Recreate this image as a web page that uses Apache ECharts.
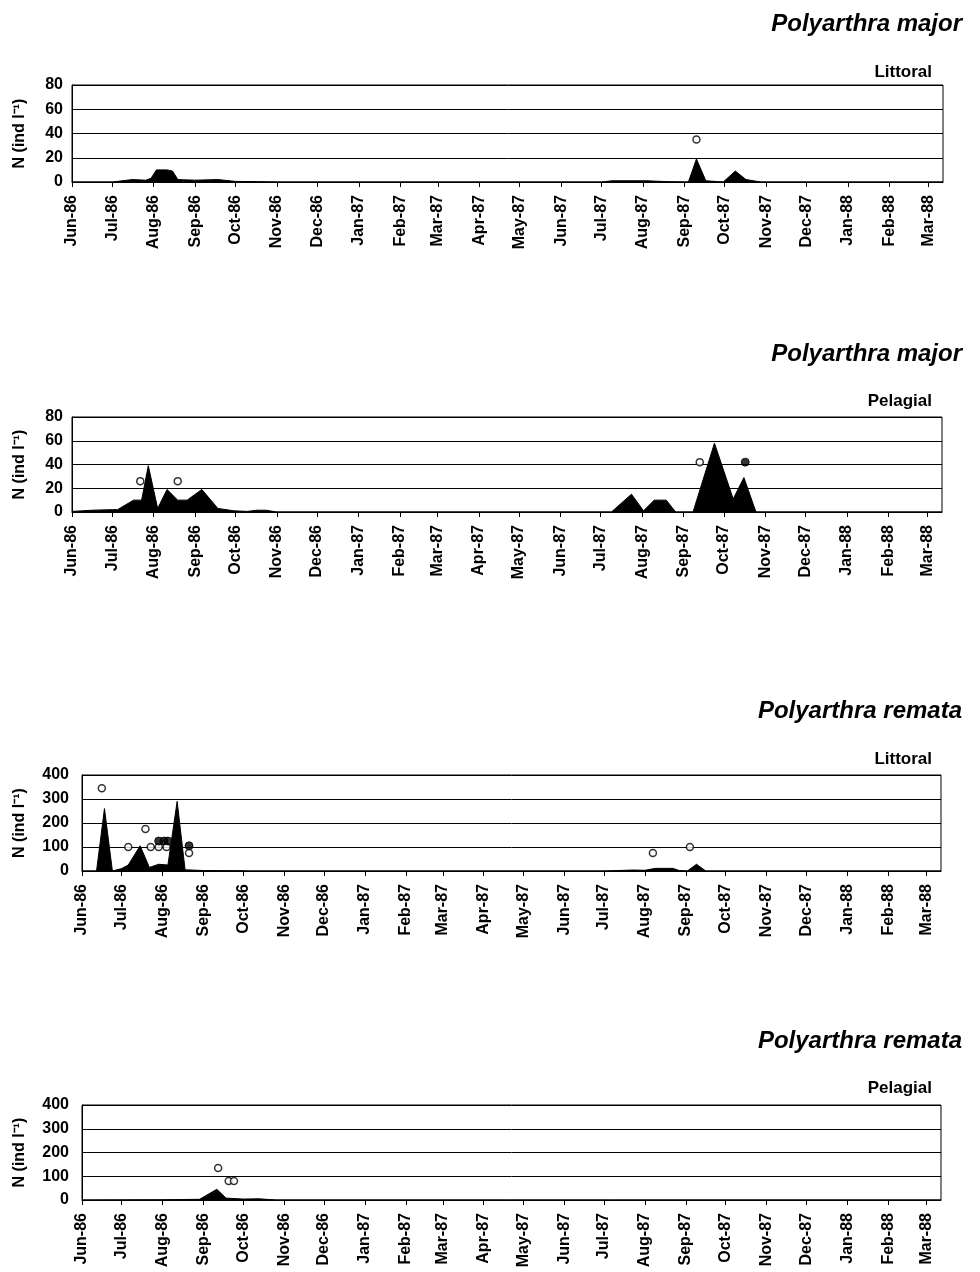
<!DOCTYPE html>
<html><head><meta charset="utf-8">
<script src="https://cdn.jsdelivr.net/npm/echarts@6/dist/echarts.min.js"></script>
<style>html,body{margin:0;padding:0;background:#fff}#c{width:980px;height:1272px}</style>
</head><body><div id="c"></div><script>
// ---- axis extent ----
const xStart = '1986-06-01';
const xEnd = '1988-03-12';

// ---- Polyarthra major, Littoral ----
const pmLitDates = ['1986-06-01','1986-07-01','1986-07-16','1986-07-26','1986-07-30','1986-08-03','1986-08-11','1986-08-15','1986-08-19','1986-09-01','1986-09-18','1986-10-01','1986-10-17','1986-11-01','1987-07-01','1987-07-09','1987-08-04','1987-08-19','1987-09-04','1987-09-10','1987-09-17','1987-09-30','1987-10-09','1987-10-17','1987-10-28','1988-03-12'];
const pmLitVals  = [0,0,2,1.5,3,10,10,9,2,1.5,2,0.5,0.3,0,0,1,1,0.3,0,19,1,0,9,2,0,0];
const pmLitOpenDates = ['1987-09-10'];
const pmLitOpenVals  = [35];
const pmLitFillDates = [];
const pmLitFillVals  = [];

// ---- Polyarthra major, Pelagial ----
const pmPelDates = ['1986-06-01','1986-06-16','1986-07-01','1986-07-05','1986-07-17','1986-07-23','1986-07-28','1986-08-04','1986-08-11','1986-08-19','1986-08-26','1986-09-06','1986-09-18','1986-09-30','1986-10-10','1986-10-17','1986-10-24','1986-11-01','1987-07-09','1987-07-24','1987-08-02','1987-08-10','1987-08-19','1987-08-26','1987-09-08','1987-09-24','1987-10-08','1987-10-16','1987-10-25','1988-03-12'];
const pmPelVals  = [0.5,1.5,2,2,10,10,39,3,19,10,10,19,3,1,0.5,1.5,1.5,0,0,15,1,10,10,0,0,58,11,29,0,0];
const pmPelOpenDates = ['1986-07-22','1986-08-19','1987-09-13'];
const pmPelOpenVals  = [26,26,42];
const pmPelFillDates = ['1987-10-17'];
const pmPelFillVals  = [42];

// ---- Polyarthra remata, Littoral ----
const prLitDates = ['1986-06-01','1986-06-12','1986-06-18','1986-06-24','1986-07-01','1986-07-06','1986-07-15','1986-07-22','1986-07-29','1986-08-05','1986-08-12','1986-08-18','1986-09-01','1986-09-30','1986-10-05','1987-07-01','1987-07-23','1987-08-01','1987-08-09','1987-08-22','1987-08-27','1987-09-02','1987-09-09','1987-09-16','1988-03-12'];
const prLitVals  = [0,0,260,0,10,25,105,15,28,25,290,5,2,1,0,0,4,3,11,11,2,0,28,0,0];
const prLitOpenDates = ['1986-06-16','1986-07-06','1986-07-19','1986-07-23','1986-07-29','1986-08-04','1986-08-21','1987-08-07','1987-09-04'];
const prLitOpenVals  = [345,100,175,100,100,100,75,75,100];
const prLitFillDates = ['1986-07-29','1986-08-02','1986-08-05','1986-08-21'];
const prLitFillVals  = [125,125,125,105];

// ---- Polyarthra remata, Pelagial ----
const prPelDates = ['1986-06-01','1986-08-01','1986-08-29','1986-09-11','1986-09-18','1986-10-01','1986-10-13','1986-10-26','1988-03-12'];
const prPelVals  = [0,1,3,45,8,4,5,0,0];
const prPelOpenDates = ['1986-09-12','1986-09-20','1986-09-24'];
const prPelOpenVals  = [135,80,80];
const prPelFillDates = [];
const prPelFillVals  = [];

// ---- panel texts / scales ----
const speciesTitles = ['Polyarthra major','Polyarthra major','Polyarthra remata','Polyarthra remata'];
const habitatTitles = ['Littoral','Pelagial','Littoral','Pelagial'];
const yMaxes = [80, 80, 400, 400];
const yIntervals = [20, 20, 100, 100];
const yName = 'N (ind l\u207B\u00B9)';

const panels = [
  {d: pmLitDates, v: pmLitVals, od: pmLitOpenDates, ov: pmLitOpenVals, fd: pmLitFillDates, fv: pmLitFillVals},
  {d: pmPelDates, v: pmPelVals, od: pmPelOpenDates, ov: pmPelOpenVals, fd: pmPelFillDates, fv: pmPelFillVals},
  {d: prLitDates, v: prLitVals, od: prLitOpenDates, ov: prLitOpenVals, fd: prLitFillDates, fv: prLitFillVals},
  {d: prPelDates, v: prPelVals, od: prPelOpenDates, ov: prPelOpenVals, fd: prPelFillDates, fv: prPelFillVals}
];

// layout
const gridPos = [
  {left: 72, right: 37, top: 85, height: 97},
  {left: 72, right: 38, top: 417, height: 95},
  {left: 82, right: 39, top: 775, height: 96},
  {left: 82, right: 39, top: 1105, height: 95}
];
const titleTops = [7, 337, 694, 1024];
const subTops = [59, 388, 746, 1075];
const nameGaps = [44, 44, 54, 54];
const yLabelMargins = [9, 9, 13, 13];

const FONT = '"Liberation Sans", Arial, sans-serif';
const DAY = 24 * 3600 * 1000;
const zip = (a, b) => a.map((x, i) => [x, b[i]]);

const option = {
  backgroundColor: '#fff',
  animation: false,
  title: [],
  grid: [],
  xAxis: [],
  yAxis: [],
  series: []
};

panels.forEach((p, i) => {
  option.title.push({
    text: speciesTitles[i], right: 13, top: titleTops[i],
    textStyle: {fontFamily: FONT, fontSize: 24, fontWeight: 'bold', fontStyle: 'italic', color: '#000'}
  });
  option.title.push({
    text: habitatTitles[i], right: 43, top: subTops[i],
    textStyle: {fontFamily: FONT, fontSize: 17, fontWeight: 'bold', color: '#000'}
  });
  option.grid.push(Object.assign({show: true, borderColor: '#000', borderWidth: 1, backgroundColor: '#fff',
    containLabel: false, outerBoundsMode: 'none'}, gridPos[i]));
  option.xAxis.push({
    type: 'time', gridIndex: i, min: xStart, max: xEnd,
    minInterval: 28 * DAY, maxInterval: 31 * DAY,
    axisLine: {show: true, lineStyle: {color: '#000', width: 1}},
    axisTick: {show: true, inside: false, length: 5, lineStyle: {color: '#000'}},
    splitLine: {show: false},
    axisLabel: {
      rotate: 90, margin: 13, formatter: '{MMM}-{yy}',
      fontFamily: FONT, fontSize: 16, fontWeight: 'bold', color: '#000',
      hideOverlap: false, showMinLabel: true
    }
  });
  option.yAxis.push({
    type: 'value', gridIndex: i, min: 0, max: yMaxes[i], interval: yIntervals[i],
    name: yName, nameLocation: 'middle', nameGap: nameGaps[i], nameRotate: 90,
    nameTextStyle: {fontFamily: FONT, fontSize: 16, fontWeight: 'bold', color: '#000'},
    axisLine: {show: true, lineStyle: {color: '#000', width: 1}},
    axisTick: {show: false},
    splitLine: {show: true, lineStyle: {color: '#000', width: 1}},
    axisLabel: {fontFamily: FONT, fontSize: 16, fontWeight: 'bold', color: '#000', margin: yLabelMargins[i]}
  });
  option.series.push({
    type: 'line', xAxisIndex: i, yAxisIndex: i, data: zip(p.d, p.v),
    symbol: 'none', smooth: false,
    lineStyle: {color: '#000', width: 1},
    areaStyle: {color: '#000', opacity: 1},
    z: 2
  });
  option.series.push({
    type: 'scatter', xAxisIndex: i, yAxisIndex: i, data: zip(p.od, p.ov),
    symbol: 'circle', symbolSize: 7,
    itemStyle: {color: '#fff', borderColor: '#000', borderWidth: 1.5},
    z: 3
  });
  option.series.push({
    type: 'scatter', xAxisIndex: i, yAxisIndex: i, data: zip(p.fd, p.fv),
    symbol: 'circle', symbolSize: 8,
    itemStyle: {color: '#000', borderColor: '#000', borderWidth: 1},
    z: 4
  });
});

const chart = echarts.init(document.getElementById('c'), null, {renderer: 'canvas'});
chart.setOption(option);
</script></body></html>
